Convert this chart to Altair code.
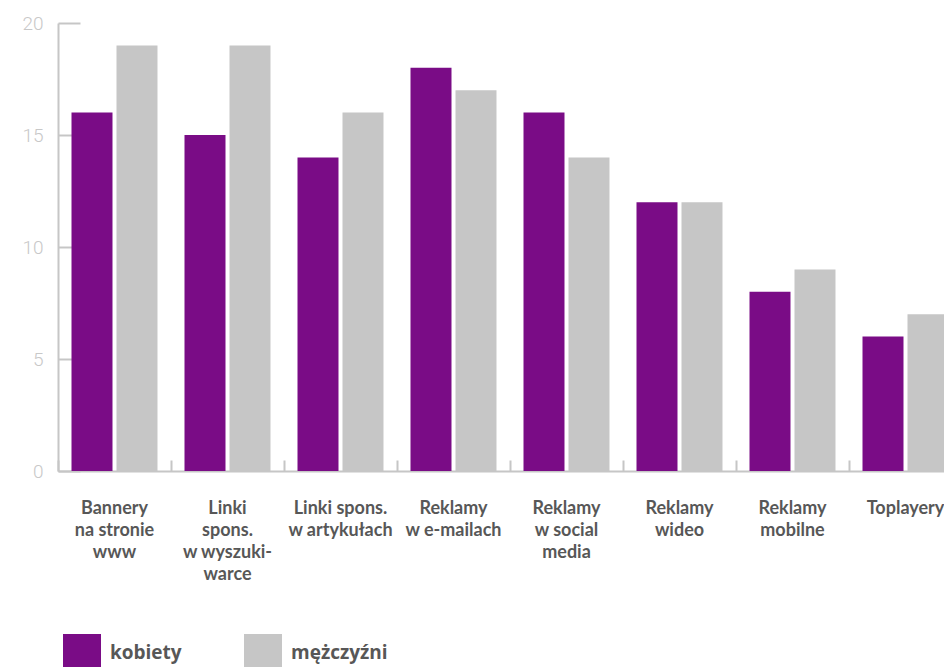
import altair as alt
import pandas as pd

categories = [
    "Bannery|na stronie|www",
    "Linki|spons.|w wyszuki-|warce",
    "Linki spons.|w artykułach",
    "Reklamy|w e-mailach",
    "Reklamy|w social|media",
    "Reklamy|wideo",
    "Reklamy|mobilne",
    "Toplayery",
]
kobiety = [16, 15, 14, 18, 16, 12, 8, 6]
mezczyzni = [19, 19, 16, 17, 14, 12, 9, 7]
series = ["kobiety", "mężczyźni"]
colors = ["#7a0c86", "#c6c6c6"]
y_ticks = [0, 5, 10, 15, 20]

rows = []
for c, k, m in zip(categories, kobiety, mezczyzni):
    rows.append({"kategoria": c, "płeć": series[0], "wartość": k})
    rows.append({"kategoria": c, "płeć": series[1], "wartość": m})
df = pd.DataFrame(rows)

axis_gray = "#c6c6c6"

chart = alt.Chart(df).mark_bar(clip=True).encode(
    x=alt.X(
        "kategoria:N",
        sort=categories,
        scale=alt.Scale(range=[0, 904], paddingInner=0, paddingOuter=0),
        axis=alt.Axis(
            title=None,
            labelAngle=0,
            labelExpr="split(datum.label, '|')",
            labelFont="Lato",
            labelFontWeight=700,
            labelFontSize=18,
            labelColor="#575757",
            labelLineHeight=22,
            labelPadding=28,
            labelBaseline="top",
            ticks=False,
            domainColor=axis_gray,
            domainWidth=2,
            grid=True,
            gridColor=axis_gray,
            gridWidth=2,
            gridDash=[0, 437, 11, 2000],
            bandPosition=0,
            labelOverlap=False,
        ),
    ),
    xOffset=alt.XOffset(
        "płeć:N",
        sort=series,
        scale=alt.Scale(paddingInner=0.0889, paddingOuter=0.3),
    ),
    y=alt.Y(
        "wartość:Q",
        scale=alt.Scale(domain=[0, 20], nice=False),
        axis=alt.Axis(
            title=None,
            values=y_ticks,
            ticks=False,
            labelFont="Roboto",
            labelFontWeight=300,
            labelFontSize=19,
            labelColor="#c8c8c8",
            labelPadding=15,
            domainColor=axis_gray,
            domainWidth=2,
            grid=True,
            gridColor=axis_gray,
            gridWidth=2,
            gridDash=[22, 2000],
        ),
    ),
    color=alt.Color(
        "płeć:N",
        scale=alt.Scale(domain=series, range=colors),
        legend=alt.Legend(
            title=None,
            orient="none",
            legendX=5,
            legendY=611,
            direction="horizontal",
            symbolType="square",
            symbolSize=1444,
            symbolStrokeWidth=0,
            symbolOpacity=1,
            labelFont="Open Sans",
            labelFontWeight=700,
            labelFontSize=19,
            labelColor="#575757",
            labelOffset=9,
            columnPadding=62,
            padding=0,
        ),
    ),
).properties(
    width=886,
    height=448,
    padding={"left": 58, "top": 23, "right": 0, "bottom": 196},
    autosize=alt.AutoSizeParams(type="none"),
).configure_view(stroke=None)

chart.save("out.html", embed_options={"renderer": "svg", "actions": False})
